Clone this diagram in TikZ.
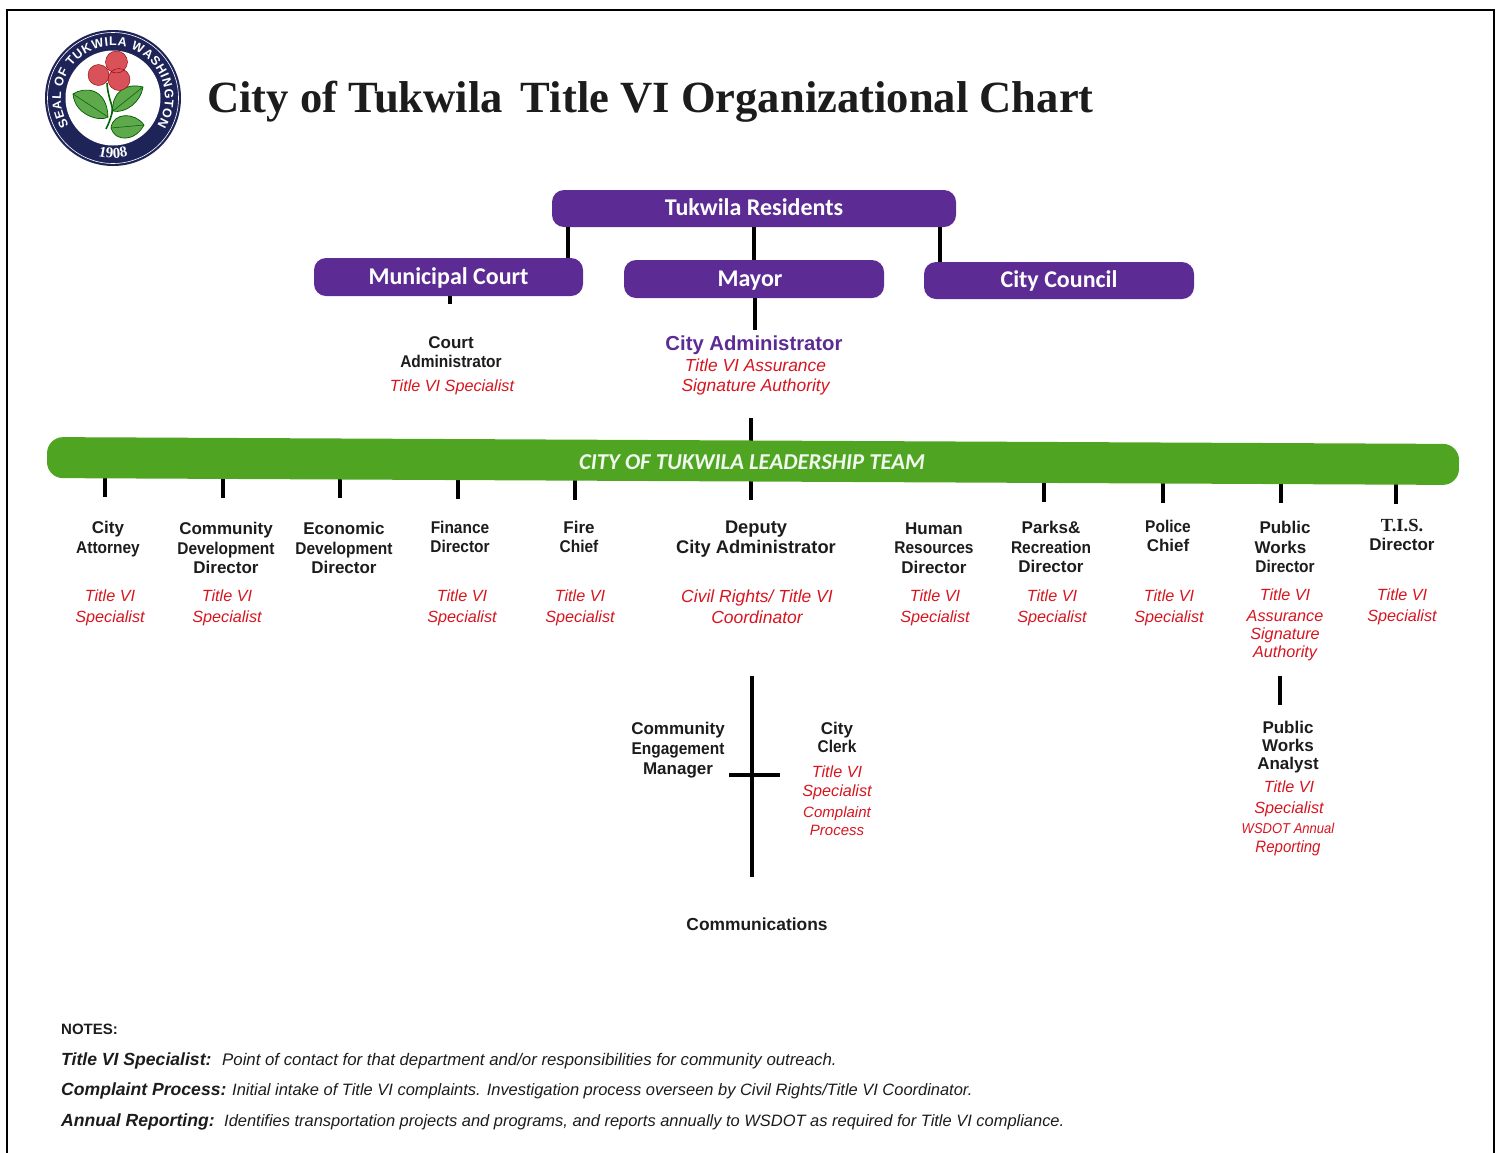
\documentclass[tikz,border=0pt]{standalone}
\usepackage{fontspec}
\setmainfont{Liberation Sans}
\newfontfamily\serifbold{Liberation Serif}
\newfontfamily\boxfont{Carlito}
\newfontfamily\narrow{Liberation Sans}[FakeStretch=0.91]
\usetikzlibrary{backgrounds,decorations.text}
\definecolor{tukpurple}{HTML}{5C2C94}
\definecolor{tukgreen}{HTML}{4FA522}
\definecolor{tukred}{HTML}{D7151F}
\definecolor{tukink}{HTML}{1C1C1C}
\definecolor{sealnavy}{HTML}{1E2458}
\definecolor{sealred}{HTML}{D9525A}
\definecolor{sealleaf}{HTML}{5EA94C}
\tikzset{
	x=1pt, y=-1pt,
	link/.style={line width=3.2pt, color=black},
	purplebox/.style={fill=tukpurple, rounded corners=12pt, inner sep=0pt, text=white, text height=15pt, text depth=1pt, font=\boxfont\bfseries\fontsize{24}{26}\selectfont},
	head/.style={inner sep=0pt, align=center, text=tukink, font=\bfseries\fontsize{17}{19.5}\selectfont},
	role/.style={inner sep=0pt, align=center, text=tukred, font=\itshape\fontsize{16.2}{21}\selectfont},
	note/.style={inner sep=0pt, anchor=base west, text=tukink, font=\itshape\fontsize{16.45}{18}\selectfont},
	notekey/.style={inner sep=0pt, anchor=base west, text=tukink, font=\bfseries\itshape\fontsize{17.6}{19}\selectfont},
	leaf/.style={fill=sealleaf, draw=green!35!black, line width=0.7pt},
	sealtext/.style={decorate, decoration={text along path, #1}}
}

\begin{document}
\begin{tikzpicture}
	\useasboundingbox (0,0) rectangle (1498,1152);
	%%%%% FRAME %%%%%
	\draw[line width=2pt] (7,10) rectangle (1494,1170);

	%%%%% SEAL %%%%%
	\begin{scope}[shift={(113,98)}, x=1pt, y=1pt]
		\fill[sealnavy] (0,0) circle (68);
		\draw[white, line width=0.6pt] (0,0) circle (65.5);
		\fill[white] (0,0) circle (47.5);
		\path[sealtext={text align=fit to path,
			text={|\color{white}\bfseries\fontsize{12.5}{13}\selectfont|SEAL OF TUKWILA WASHINGTON}}]
			(212:52) arc (212:-32:52);
		\path[sealtext={text align=center,
			text={|\color{white}\serifbold\bfseries\fontsize{15}{15}\selectfont|1908}}]
			(235:60) arc (235:305:60);
		\draw[green!40!black, line width=1.6pt] (-6,15) .. controls (-5,-2) and (1,-8) .. (-1,-15) .. controls (-3,-22) and (-4,-25) .. (-7,-31);
		\draw[leaf] (-40,4) .. controls (-28,12) and (-6,10) .. (-5,-19) .. controls (-12,-24) and (-38,-18) .. cycle;
		\draw[leaf] (0,-13) .. controls (-2,4) and (12,16) .. (30,11) .. controls (28,-4) and (12,-16) .. cycle;
		\draw[leaf] (-2,-30) .. controls (0,-14) and (22,-14) .. (31,-27) .. controls (22,-44) and (2,-44) .. cycle;
		\draw[green!35!black, line width=0.5pt] (-40,4) -- (-5,-19) (0,-13) -- (30,11) (-2,-30) -- (31,-27);
		\fill[sealred] (3.5,36) circle (11);
		\fill[sealred] (-14.5,23) circle (10.5);
		\fill[sealred] (6,18.5) circle (11);
		\draw[red!55!black, line width=0.4pt] (3.5,36) circle (11) (-14.5,23) circle (10.5) (6,18.5) circle (11);
	\end{scope}

	%%%%% TITLE %%%%%
	\node[anchor=base west, inner sep=0pt, text=tukink, font=\serifbold\bfseries\fontsize{44.6}{50}\selectfont] (title) at (207,112)
		{City of Tukwila\hspace{18pt}Title VI Organizational Chart};

	%%%%% PURPLE BOXES %%%%%
	\node[purplebox, minimum width=404, minimum height=37] (residents) at (754,208.5) {Tukwila Residents};
	\node[purplebox, minimum width=269, minimum height=38] (court) at (448.5,277) {Municipal Court};
	\node[purplebox, minimum width=260, minimum height=38] (mayor) at (754,279) {\kern-8pt Mayor};
	\node[purplebox, minimum width=270, minimum height=37] (council) at (1059,280.5) {City Council};

	\coordinate (courtdrop) at (568,0);
	\coordinate (councildrop) at (940,0);
	\coordinate (courtstub) at (450,304);
	\coordinate (mayorstub) at (755,330);
	\coordinate (teamstub) at (751,418);
	\draw[link] (courtdrop |- residents.south) -- (courtdrop |- court.north);
	\draw[link] (residents.south -| mayor.north) -- (mayor.north);
	\draw[link] (councildrop |- residents.south) -- (councildrop |- council.north);
	\draw[link] (courtstub |- court.south) -- (courtstub);
	\draw[link] (mayorstub |- mayor.south) -- (mayorstub);

	\node[head, font=\bfseries\fontsize{17}{18.5}\selectfont] (courtadmin) at (451,352) {Court\\{\narrow Administrator}};
	\node[role] (courtrole) at (452,387) {Title VI Specialist};
	\node[head, text=tukpurple, font=\bfseries\fontsize{20.3}{22}\selectfont] (cityadmin) at (754,345) {City Administrator};
	\node[role, font=\itshape\fontsize{17.4}{20.5}\selectfont] (cityrole) at (755.5,377) {Title VI Assurance\\Signature Authority};

	%%%%% LEADERSHIP BAR %%%%%
	\node[fill=tukgreen, rounded corners=16pt, minimum width=1412, minimum height=41, inner sep=0pt, rotate=-0.28] (team) at (753,461) {};
	\node[inner sep=0pt, text=white!92!tukgreen, font=\boxfont\bfseries\itshape\fontsize{22.7}{25}\selectfont] (teamlabel) at (752,462.5) {CITY OF TUKWILA LEADERSHIP TEAM};

	\coordinate (attorneytick) at (105,497);
	\coordinate (communitytick) at (223,498);
	\coordinate (economictick) at (340,498);
	\coordinate (financetick) at (458,499);
	\coordinate (firetick) at (575,500);
	\coordinate (deputytick) at (751,500);
	\coordinate (parkstick) at (1044,502);
	\coordinate (policetick) at (1163,503);
	\coordinate (workstick) at (1281,503);
	\coordinate (tistick) at (1396,504);
	\begin{pgfonlayer}{background}
		\draw[link] (teamstub) -- (teamstub |- team.center);
		\draw[link] (attorneytick |- team.center) -- (attorneytick);
		\draw[link] (communitytick |- team.center) -- (communitytick);
		\draw[link] (economictick |- team.center) -- (economictick);
		\draw[link] (financetick |- team.center) -- (financetick);
		\draw[link] (firetick |- team.center) -- (firetick);
		\draw[link] (deputytick |- team.center) -- (deputytick);
		\draw[link] (parkstick |- team.center) -- (parkstick);
		\draw[link] (policetick |- team.center) -- (policetick);
		\draw[link] (workstick |- team.center) -- (workstick);
		\draw[link] (tistick |- team.center) -- (tistick);
	\end{pgfonlayer}

	%%%%% DIRECTORS %%%%%
	\node[head] (attorney) at (108,539) {City\\{\narrow Attorney}};
	\node[role] (attorneyrole) at (110,607.5) {Title VI\\Specialist};
	\node[head] (community) at (226,548) {Community\\{\narrow Development}\\Director};
	\node[role] (communityrole) at (227,607.5) {Title VI\\Specialist};
	\node[head] (economic) at (344,548) {Economic\\{\narrow Development}\\Director};
	\node[head] (finance) at (460,537) {{\narrow Finance}\\{\narrow Director}};
	\node[role] (financerole) at (462,607.5) {Title VI\\Specialist};
	\node[head] (fire) at (579,537) {Fire\\{\narrow Chief}};
	\node[role] (firerole) at (580,607.5) {Title VI\\Specialist};
	\node[head, font=\bfseries\fontsize{18.3}{20}\selectfont] (deputy) at (756,539) {Deputy\\City Administrator};
	\node[role, font=\itshape\fontsize{17.5}{21}\selectfont] (deputyrole) at (757,606.5) {Civil Rights/ Title VI\\Coordinator};
	\node[head] (human) at (934,548) {Human\\{\narrow Resources}\\Director};
	\node[role] (humanrole) at (935,607.5) {Title VI\\Specialist};
	\node[head] (parks) at (1051,547) {Parks\&\\{\narrow Recreation}\\Director};
	\node[role] (parksrole) at (1052,607.5) {Title VI\\Specialist};
	\node[head] (police) at (1168,536) {{\narrow Police}\\Chief};
	\node[role] (policerole) at (1169,607.5) {Title VI\\Specialist};
	\node[head] (works) at (1285,547) {Public\\\hspace*{-9pt}Works\\{\narrow Director}};
	\node[role, font=\itshape\fontsize{16.2}{18.3}\selectfont] (worksrole) at (1285,625) {Title VI\\[2.5pt]Assurance\\Signature\\Authority};
	\node[head] (tis) at (1402,535) {{\serifbold\fontsize{18.5}{19.5}\selectfont T.I.S.}\\Director};
	\node[role] (tisrole) at (1402,606.5) {Title VI\\Specialist};

	%%%%% DEPUTY BRANCH %%%%%
	\coordinate (crosstop) at (752,676);
	\coordinate (crossbottom) at (752,877);
	\draw[link] (crosstop) -- (crossbottom);
	\node[head, font=\bfseries\fontsize{17}{20}\selectfont] (engagement) at (678,750) {Community\\{\narrow Engagement}\\Manager};
	\node[head, font=\bfseries\fontsize{17}{18}\selectfont] (clerk) at (837,737) {City\\{\narrow Clerk}};
	\node[role, font=\itshape\fontsize{16.2}{19}\selectfont] (clerkrole) at (837,782.5) {Title VI\\Specialist};
	\node[role, font=\itshape\fontsize{15}{18.5}\selectfont] (clerkrolee) at (837,821) {Complaint\\Process};
	\coordinate (crossleft) at (729,775);
	\coordinate (crossright) at (780,775);
	\draw[link] (crossleft) -- (crossright);
	\node[head, font=\bfseries\fontsize{17.4}{20}\selectfont] (communications) at (757,924) {Communications};

	%%%%% PUBLIC WORKS BRANCH %%%%%
	\coordinate (analysttop) at (1280,676);
	\coordinate (analystbottom) at (1280,705);
	\draw[link] (analysttop) -- (analystbottom);
	\node[head, font=\bfseries\fontsize{17}{18}\selectfont] (analyst) at (1288,747) {Public\\Works\\Analyst};
	\node[role, font=\itshape\fontsize{16.2}{20.5}\selectfont] (analystrole) at (1289,799) {Title VI\\Specialist};
	\node[role, font=\narrow\itshape\fontsize{16.5}{19}\selectfont] (analystrolee) at (1288,840) {{\fontsize{14.3}{19}\selectfont WSDOT Annual}\\Reporting};

	%%%%% NOTES %%%%%
	\node[note, font=\bfseries\fontsize{15}{16}\selectfont] (notes) at (61,1034) {NOTES:};
	\node[notekey] (specialistkey) at (61,1065) {Title VI Specialist:};
	\node[note, font=\itshape\fontsize{16.8}{18}\selectfont] (specialistnote) at (222,1065) {Point of contact for that department and/or responsibilities for community outreach.};
	\node[notekey] (complaintkey) at (61,1095) {Complaint Process:};
	\node[note] (complaintnote) at (232,1095) {Initial intake of Title VI complaints. Investigation process overseen by Civil Rights/Title VI Coordinator.};
	\node[notekey] (annualkey) at (61,1126) {Annual Reporting:};
	\node[note] (annualnote) at (224,1126) {Identifies transportation projects and programs, and reports annually to WSDOT as required for Title VI compliance.};
\end{tikzpicture}
\end{document}
